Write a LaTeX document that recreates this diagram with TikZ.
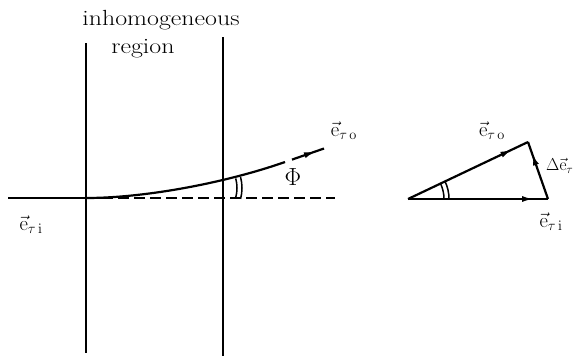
\documentclass[tikz,border=0pt]{standalone}
\usepackage{graphicx}
\usetikzlibrary{decorations.markings,arrows.meta}
\begin{document}
\begin{tikzpicture}[x=1bp,y=-1bp,
  line/.style={line width=2.2bp},
  dashline/.style={line width=2.2bp, dash pattern=on 11bp off 5bp},
  lbl/.style={inner sep=0pt, font=\fontsize{22}{26}\selectfont},
  midarrow/.style={postaction={decorate},decoration={markings,mark=at position #1 with {\arrow{Latex[length=12bp,width=6bp]}}}},
  ]
\useasboundingbox (0,0) rectangle (579,358);
% left figure
\coordinate (L1t) at (86,43);
\coordinate (L1b) at (86,353);
\coordinate (L2t) at (223,37);
\coordinate (L2b) at (223,356);
\coordinate (H0) at (8,198);
\coordinate (O) at (86,198);
\coordinate (Hend) at (335,198);
\coordinate (C1) at (285,162);
\coordinate (C2) at (292,159.6);
\coordinate (C3) at (324,148.5);
\draw[line] (L1t) -- (L1b);
\draw[line] (L2t) -- (L2b);
\draw[line] (H0) -- (O);
\draw[dashline] (O) -- (Hend);
\draw[line] (O) .. controls (145,198) and (225,183) .. (C1);
\draw[line, midarrow=0.75] (C2) -- (C3);
\draw[line width=1.5bp] ([shift={(-15:37)}]200,188) arc[start angle=-15,end angle=15,radius=37];
\draw[line width=1.5bp] ([shift={(-15:42)}]200,188) arc[start angle=-15,end angle=15,radius=42];
\node[lbl] (inh) at (161,20) {\scalebox{1.18}[1]{inhomogeneous}};
\node[lbl] (reg) at (143,49) {\scalebox{1.18}[1]{region}};
\node[lbl] (eto) at (344,131) {$\vec{\mathrm{e}}_{\tau\,\mathrm{o}}$};
\node[lbl] (phi) at (293,177) {\fontsize{25}{28}\selectfont$\Phi$};
\node[lbl] (eti) at (31,225) {$\vec{\mathrm{e}}_{\tau\,\mathrm{i}}$};
% right figure
\coordinate (A) at (408,199);
\coordinate (B) at (528,142);
\coordinate (C) at (548,199);
\draw[line, midarrow=0.87] (A) -- (B);
\draw[line, midarrow=0.9] (A) -- (C);
\draw[line, midarrow=0.8] (C) -- (B);
\draw[line width=1.5bp] ([shift={(0:36)}]A) arc[start angle=0,end angle=-25.4,radius=36];
\draw[line width=1.5bp] ([shift={(0:41)}]A) arc[start angle=0,end angle=-25.4,radius=41];
\node[lbl] (eto2) at (492,131) {$\vec{\mathrm{e}}_{\tau\,\mathrm{o}}$};
\node[lbl, anchor=west, font=\fontsize{18}{22}\selectfont] (de) at (546,166) {$\Delta\vec{\mathrm{e}}_{\tau}$};
\node[lbl] (eti2) at (551,222) {$\vec{\mathrm{e}}_{\tau\,\mathrm{i}}$};
\end{tikzpicture}
\end{document}
